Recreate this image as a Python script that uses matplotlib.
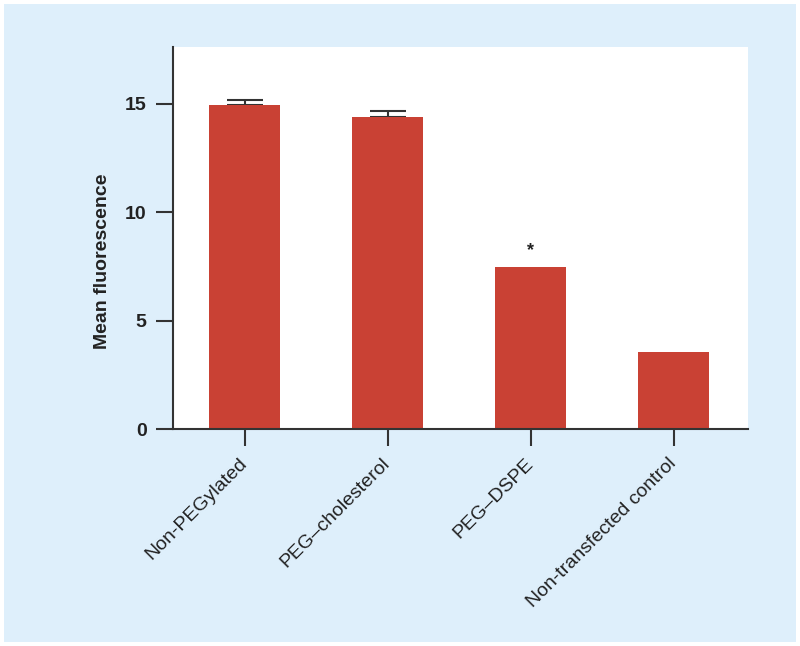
import numpy as np
import matplotlib.pyplot as plt
from matplotlib.patches import Rectangle

plt.rcParams['font.family'] = ['Liberation Sans', 'DejaVu Sans']

groups = ['Non-PEGylated', 'PEG\u2013cholesterol', 'PEG\u2013DSPE', 'Non-transfected control']
means = [14.95, 14.38, 7.49, 3.55]
err_up = [0.23, 0.31, 0, 0]
marks = ['', '', '*', '']

bar_col = '#C94134'
bg_col = '#DEEFFB'
ax_col = '#333333'

fig = plt.figure(figsize=(8, 6.46), dpi=100)
fig.patches.append(Rectangle((4 / 800, 4 / 646), 792 / 800, 638 / 646,
                             transform=fig.transFigure, facecolor=bg_col,
                             edgecolor='none', zorder=-10))
ax = fig.add_axes([173 / 800, 1 - 429 / 646, 575 / 800, 382 / 646])
ax.set_facecolor('white')

x = np.arange(len(groups))
ax.bar(x, means, width=0.5, color=bar_col, zorder=2)
# only the bars that have an error get a whisker
has_err = [i for i, e in enumerate(err_up) if e > 0]
ax.errorbar(x[has_err], [means[i] for i in has_err],
            yerr=[np.zeros(len(has_err)), [err_up[i] for i in has_err]],
            fmt='none', ecolor=ax_col, elinewidth=1.5, capsize=13,
            capthick=1.5, zorder=1)
for xi, m, s in zip(x, means, marks):
    if s:
        ax.text(xi, m + 0.35, s, ha='center', va='bottom', fontsize=13,
                fontweight='bold', color='#222222')

ax.set_xlim(-0.5, 3.52)
ax.set_ylim(0, 17.63)
ax.set_yticks([0, 5, 10, 15])
ax.set_xticks(x)
ax.set_xticklabels(groups, rotation=45, ha='right', va='center',
                   rotation_mode='anchor', fontsize=14, color='#222222')
for lab in ax.get_yticklabels():
    lab.set_fontweight('bold')
    lab.set_fontsize(14)
    lab.set_color('#222222')

ax.set_ylabel('Mean fluorescence', fontsize=14, fontweight='bold',
              color='#222222')
ax.yaxis.set_label_coords(-0.108, 0.44)

for side in ['top', 'right']:
    ax.spines[side].set_visible(False)
for side in ['left', 'bottom']:
    ax.spines[side].set_color(ax_col)
    ax.spines[side].set_linewidth(1.5)
ax.tick_params(axis='both', direction='out', length=12, width=1.5,
               color=ax_col, pad=7)
ax.tick_params(axis='x', pad=11)

fig.savefig('out.png', dpi=100, facecolor='white')
